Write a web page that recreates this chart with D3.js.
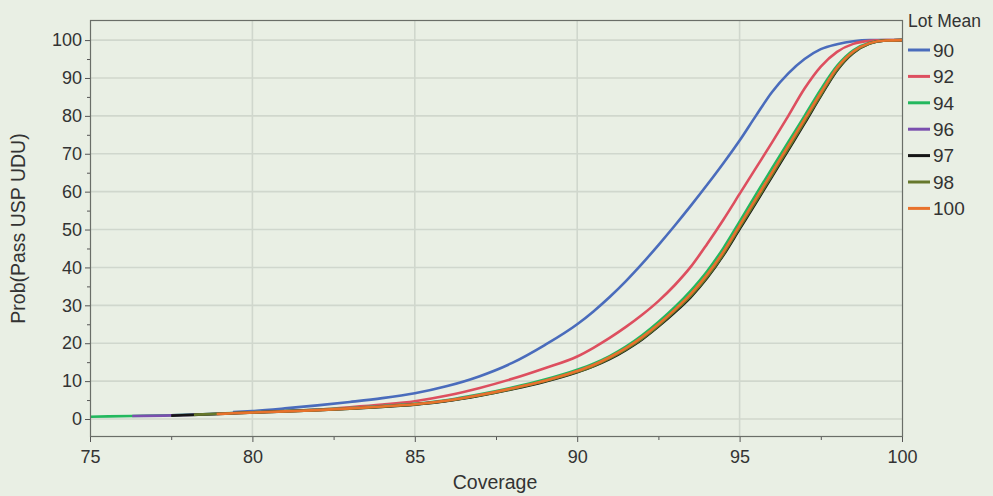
<!DOCTYPE html>
<html>
<head>
<meta charset="utf-8">
<script src="https://cdn.jsdelivr.net/npm/d3@7"></script>
<style>
  body { margin: 0; background: #e9efe4; }
  svg { display: block; font-family: "Liberation Sans", Arial, sans-serif; }
</style>
</head>
<body>
<div id="chart"></div>
<script>
// coverage grid (x values shared by all series)
const coverage = [75, 76.3, 77.5, 78.2, 78.9, 79.4, 80, 81, 82, 83, 84, 85, 86, 87, 88, 89,
  90, 90.5, 91, 91.5, 92, 92.5, 93, 93.5, 94, 94.5, 95, 95.5, 96, 96.5, 97, 97.5, 98, 98.5, 99, 99.5, 100];

const lotMeans = ["90", "92", "94", "96", "97", "98", "100"];
const lotColors = ["#4a6cbc", "#dd4f5f", "#23b85e", "#7a4fae", "#151515", "#66782c", "#e8722c"];

// Prob(Pass USP UDU), null = not plotted there
const p90 = [null, null, null, null, null, 1.8, 2.1, 2.8, 3.6, 4.5, 5.5, 6.8, 8.7, 11.3, 14.8, 19.5,
  25.0, 28.4, 32.2, 36.4, 41.0, 45.9, 51.0, 56.3, 61.8, 67.5, 73.5, 80.0, 86.3, 91.2, 95.0, 97.6, 98.9, 99.7, 100, 100, 100];
const p92 = [null, null, null, null, null, 1.6, 1.8, 2.1, 2.5, 3.1, 3.8, 4.7, 6.2, 8.2, 10.6, 13.4,
  16.5, 18.8, 21.4, 24.3, 27.5, 31.1, 35.3, 40.2, 46.2, 52.6, 59.4, 66.2, 73.0, 80.0, 87.2, 93.0, 96.9, 99.0, 99.8, 100, 100];
const p94 = [0.6, 0.8, 1.0, 1.2, 1.4, 1.6, 1.8, 2.1, 2.5, 2.9, 3.4, 4.0, 5.0, 6.5, 8.3, 10.4,
  13.0, 14.6, 16.6, 19.1, 22.1, 25.6, 29.5, 33.9, 39.0, 45.1, 52.1, 59.2, 66.2, 73.1, 80.0, 87.0, 93.2, 97.3, 99.3, 99.9, 100];
const p96 = [null, 0.8, 0.95, 1.15, 1.35, 1.55, 1.75, 2.05, 2.4, 2.8, 3.3, 3.9, 4.85, 6.3, 8.05, 10.05,
  12.6, 14.2, 16.2, 18.6, 21.5, 24.9, 28.7, 32.9, 38.0, 44.0, 51.0, 58.0, 65.0, 72.0, 79.0, 86.0, 92.6, 96.9, 99.2, 99.9, 100];
const p97 = [null, null, 0.9, 1.1, 1.3, 1.5, 1.7, 2.0, 2.3, 2.7, 3.2, 3.8, 4.75, 6.15, 7.85, 9.85,
  12.35, 13.9, 15.8, 18.2, 21.0, 24.4, 28.1, 32.2, 37.2, 43.2, 50.1, 57.0, 64.0, 71.0, 78.0, 85.2, 92.0, 96.6, 99.1, 99.9, 100];
const p98 = [null, null, null, 1.15, 1.35, 1.5, 1.7, 2.0, 2.35, 2.75, 3.25, 3.85, 4.8, 6.2, 7.95, 9.95,
  12.45, 14.0, 16.0, 18.4, 21.2, 24.6, 28.4, 32.5, 37.5, 43.5, 50.5, 57.4, 64.4, 71.4, 78.4, 85.5, 92.2, 96.7, 99.1, 99.9, 100];
const p100 = [null, null, null, null, 1.3, 1.5, 1.7, 2.0, 2.35, 2.8, 3.3, 3.9, 4.9, 6.35, 8.1, 10.1,
  12.65, 14.25, 16.3, 18.7, 21.6, 25.0, 28.8, 33.0, 38.1, 44.1, 51.1, 58.1, 65.1, 72.1, 79.1, 86.1, 92.7, 97.0, 99.2, 99.9, 100];

const xTicks = [75, 80, 85, 90, 95, 100];
const xMinor = [77.5, 82.5, 87.5, 92.5, 97.5];
const yTicks = [0, 10, 20, 30, 40, 50, 60, 70, 80, 90, 100];
const yMinor = [5, 15, 25, 35, 45, 55, 65, 75, 85, 95];

const width = 993, height = 496;
const margin = { top: 20, right: 90, bottom: 59, left: 90 };

const seriesValues = [p90, p92, p94, p96, p97, p98, p100];
const series = lotMeans.map((name, i) => ({
  name: name,
  color: lotColors[i],
  points: coverage.map((c, j) => ({ x: c, y: seriesValues[i][j] }))
}));

const x = d3.scaleLinear().domain([75, 100]).range([margin.left, width - margin.right - 1]);
const y = d3.scaleLinear().domain([-4.75, 105.3]).range([height - margin.bottom, margin.top]);

const svg = d3.select("#chart").append("svg")
  .attr("width", width)
  .attr("height", height);

svg.append("rect")
  .attr("width", width).attr("height", height)
  .attr("fill", "#e9efe4");

svg.append("clipPath").attr("id", "plot-clip")
  .append("rect")
  .attr("x", margin.left).attr("y", margin.top)
  .attr("width", width - margin.left - margin.right)
  .attr("height", height - margin.top - margin.bottom);

// grid
const grid = svg.append("g").attr("stroke", "#d0d7cd").attr("stroke-width", 1.6);
grid.selectAll("line.h").data(yTicks).join("line")
  .attr("class", "h")
  .attr("x1", margin.left).attr("x2", width - margin.right)
  .attr("y1", d => y(d)).attr("y2", d => y(d));
grid.selectAll("line.v").data(xTicks.slice(1, -1)).join("line")
  .attr("class", "v")
  .attr("y1", margin.top).attr("y2", height - margin.bottom)
  .attr("x1", d => x(d)).attr("x2", d => x(d));

// curves
const line = d3.line()
  .defined(d => d.y != null)
  .x(d => x(d.x))
  .y(d => y(d.y))
  .curve(d3.curveMonotoneX);

svg.append("g")
  .attr("clip-path", "url(#plot-clip)")
  .selectAll("path")
  .data(series)
  .join("path")
  .attr("fill", "none")
  .attr("stroke", d => d.color)
  .attr("stroke-width", 2.6)
  .attr("stroke-linejoin", "round")
  .attr("d", d => line(d.points));

// frame
svg.append("rect")
  .attr("x", margin.left + 0.5).attr("y", margin.top + 0.5)
  .attr("width", width - margin.left - margin.right - 1)
  .attr("height", height - margin.top - margin.bottom - 1)
  .attr("fill", "none")
  .attr("stroke", "#6a6e68")
  .attr("stroke-width", 1.2);

// axes
function styleAxis(g) {
  g.select(".domain").remove();
  g.selectAll(".tick line").attr("stroke", "#555");
  g.selectAll(".tick text")
    .attr("fill", "#333")
    .style("font-size", "18px");
}

svg.append("g")
  .attr("transform", `translate(${margin.left},0)`)
  .call(d3.axisLeft(y).tickValues(yTicks).tickSize(5).tickPadding(3))
  .call(styleAxis);
svg.append("g")
  .attr("transform", `translate(${margin.left},0)`)
  .call(d3.axisLeft(y).tickValues(yMinor).tickSize(3).tickFormat(""))
  .call(styleAxis);

svg.append("g")
  .attr("transform", `translate(0,${height - margin.bottom})`)
  .call(d3.axisBottom(x).tickValues(xTicks).tickSize(5).tickPadding(8))
  .call(styleAxis);
svg.append("g")
  .attr("transform", `translate(0,${height - margin.bottom})`)
  .call(d3.axisBottom(x).tickValues(xMinor).tickSize(3).tickFormat(""))
  .call(styleAxis);

// axis titles
svg.append("text")
  .attr("x", 495)
  .attr("y", 489)
  .attr("text-anchor", "middle")
  .attr("fill", "#333")
  .style("font-size", "19.5px")
  .text("Coverage");

svg.append("text")
  .attr("transform", `translate(25,${(margin.top + height - margin.bottom) / 2}) rotate(-90)`)
  .attr("text-anchor", "middle")
  .attr("fill", "#333")
  .style("font-size", "19.5px")
  .text("Prob(Pass USP UDU)");

// legend
const legend = svg.append("g").attr("transform", `translate(${width - margin.right + 4},0)`);
legend.append("text")
  .attr("x", 1).attr("y", 27)
  .attr("fill", "#333")
  .style("font-size", "17.5px")
  .text("Lot Mean");

const item = legend.selectAll("g.item")
  .data(series)
  .join("g")
  .attr("class", "item")
  .attr("transform", (d, i) => `translate(0,${50 + i * 26.4})`);
item.append("line")
  .attr("x1", 1).attr("x2", 23)
  .attr("stroke", d => d.color)
  .attr("stroke-width", 3);
item.append("text")
  .attr("x", 26).attr("dy", "0.36em")
  .attr("fill", "#333")
  .style("font-size", "19px")
  .text(d => d.name);
</script>
</body>
</html>
